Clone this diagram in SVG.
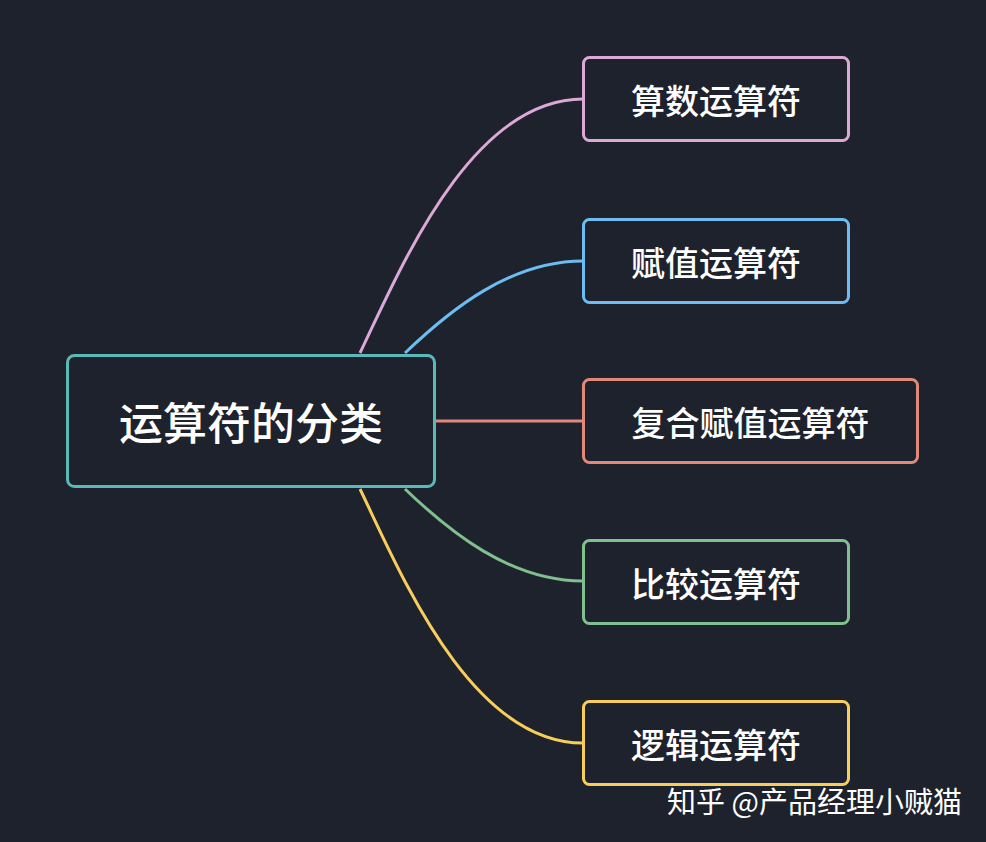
<svg xmlns="http://www.w3.org/2000/svg" width="986" height="842" viewBox="0 0 986 842">
<style>
.bg{fill:#1e222d}
.box{fill:#1e222d;stroke-width:3}
.t{fill:#ffffff;font-family:"Noto Sans CJK SC","Noto Sans",sans-serif;font-weight:500;text-anchor:middle;dominant-baseline:central}
.c{fill:none;stroke-width:3}
</style>
<rect class="bg" x="0" y="0" width="986" height="842"/>
<g id="connectors">
<path class="c" stroke="#dba8d8" d="M360,353 C400,270 470,99 583,99"/>
<path class="c" stroke="#6dbef0" d="M405,353 C450,310 510,261 583,261"/>
<path class="c" stroke="#e0887a" d="M435,421 L583,421"/>
<path class="c" stroke="#80c08e" d="M405,489 C450,532 510,581 583,581"/>
<path class="c" stroke="#f7cd5b" d="M360,489 C400,572 470,743 583,743"/>
</g>
<g id="root">
<rect class="box" stroke="#5ab9b9" x="67.5" y="355.5" width="367" height="131" rx="7"/>
<text class="t" x="251" y="421" font-size="44">运算符的分类</text>
</g>
<g id="n1">
<rect class="box" stroke="#dba8d8" x="583.5" y="57.5" width="265" height="83" rx="6"/>
<text class="t" x="716" y="99" font-size="34">算数运算符</text>
</g>
<g id="n2">
<rect class="box" stroke="#6dbef0" x="583.5" y="219.5" width="265" height="83" rx="6"/>
<text class="t" x="716" y="261" font-size="34">赋值运算符</text>
</g>
<g id="n3">
<rect class="box" stroke="#e0887a" x="583.5" y="379.5" width="334" height="83" rx="6"/>
<text class="t" x="750.5" y="421" font-size="34">复合赋值运算符</text>
</g>
<g id="n4">
<rect class="box" stroke="#80c08e" x="583.5" y="540.5" width="265" height="83" rx="6"/>
<text class="t" x="716" y="582" font-size="34">比较运算符</text>
</g>
<g id="n5">
<rect class="box" stroke="#f7cd5b" x="583.5" y="701.5" width="265" height="83" rx="6"/>
<text class="t" x="716" y="743" font-size="34">逻辑运算符</text>
</g>
<text x="667" y="800" font-size="29" fill="#ffffff" font-family="Noto Sans CJK SC,sans-serif" dominant-baseline="central">知乎 @产品经理小贼猫</text>
</svg>
